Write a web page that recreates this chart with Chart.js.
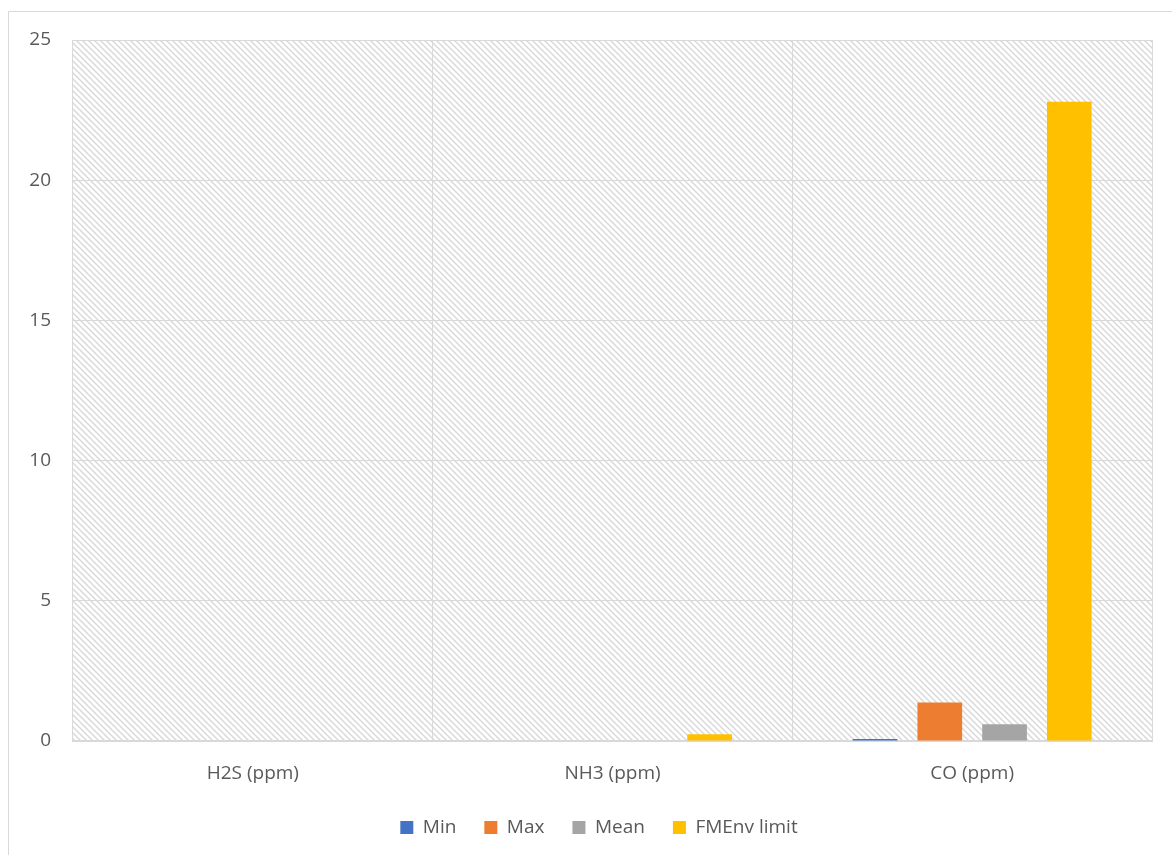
<!DOCTYPE html>
<html>
<head>
<meta charset="utf-8">
<script src="https://cdn.jsdelivr.net/npm/chart.js@4/dist/chart.umd.min.js"></script>
<style>
  html, body { margin: 0; padding: 0; background: #fff; }
  #wrap { width: 1172px; height: 855px; position: relative; }
</style>
</head>
<body>
<div id="wrap"><canvas id="chart" width="1172" height="855"></canvas></div>
<script>
const categories = ['H2S (ppm)', 'NH3 (ppm)', 'CO (ppm)'];
const minValues = [0, 0, 0.07];
const maxValues = [0, 0, 1.37];
const meanValues = [0, 0, 0.6];
const limitValues = [0, 0.24, 22.8];
const yTicks = [0, 5, 10, 15, 20, 25];

const textColor = '#595959';
const gridColor = '#d9d9d9';

// motif hachuré du fond (diagonales)
function makeHatch() {
    const c = document.createElement('canvas');
    c.width = 6; c.height = 6;
    const g = c.getContext('2d');
    g.fillStyle = '#ffffff';
    g.fillRect(0, 0, 6, 6);
    g.strokeStyle = '#d9d9d9';
    g.lineWidth = 1.5;
    g.beginPath();
    g.moveTo(-1, -1); g.lineTo(7, 7);
    g.moveTo(-1, 5); g.lineTo(1, 7);
    g.moveTo(5, -1); g.lineTo(7, 1);
    g.stroke();
    return c;
}

const backgroundPlugin = {
    id: 'hatchBg',
    afterLayout(chart) {
        // légende un peu décalée vers la droite, comme dans l'original
        if (chart.legend) {
            chart.legend.left += 19;
            chart.legend.right += 19;
        }
    },
    beforeDraw(chart) {
        const { ctx, chartArea } = chart;
        ctx.save();
        // cadre extérieur
        ctx.strokeStyle = gridColor;
        ctx.lineWidth = 1;
        ctx.beginPath();
        ctx.moveTo(8.5, 855);
        ctx.lineTo(8.5, 11.5);
        ctx.lineTo(1172, 11.5);
        ctx.stroke();
        ctx.fillStyle = ctx.createPattern(makeHatch(), 'repeat');
        ctx.fillRect(chartArea.left, chartArea.top, chartArea.right - chartArea.left, chartArea.bottom - chartArea.top);
        ctx.restore();
    }
};

const ctx = document.getElementById('chart').getContext('2d');

new Chart(ctx, {
    type: 'bar',
    data: {
        labels: categories,
        datasets: [
            { label: 'Min', data: minValues, backgroundColor: '#4472C4' },
            { label: 'Max', data: maxValues, backgroundColor: '#ED7D31' },
            { label: 'Mean', data: meanValues, backgroundColor: '#A5A5A5' },
            { label: 'FMEnv limit', data: limitValues, backgroundColor: '#FFC000' }
        ]
    },
    options: {
        responsive: false,
        animation: false,
        categoryPercentage: 0.72,
        barPercentage: 0.69,
        layout: {
            padding: { left: 8, right: 20, top: 40, bottom: 8 }
        },
        plugins: {
            legend: {
                position: 'bottom',
                labels: {
                    color: textColor,
                    boxWidth: 13,
                    boxHeight: 13,
                    padding: 28,
                    font: { family: 'Open Sans', size: 19 }
                }
            },
            tooltip: { enabled: false }
        },
        scales: {
            x: {
                grid: { color: gridColor, lineWidth: 1, drawTicks: false },
                border: { color: gridColor, width: 2 },
                ticks: {
                    color: textColor,
                    padding: 21,
                    font: { family: 'Open Sans', size: 19 }
                },
                afterFit(scale) { scale.height = 49; }
            },
            y: {
                min: 0,
                max: 25,
                afterBuildTicks(scale) {
                    scale.ticks = yTicks.map(v => ({ value: v }));
                },
                grid: { color: gridColor, lineWidth: 1, drawTicks: false },
                border: { display: false },
                ticks: {
                    color: textColor,
                    padding: 22,
                    font: { family: 'Open Sans', size: 19 }
                },
                afterFit(scale) { scale.width = 65; }
            }
        }
    },
    plugins: [backgroundPlugin]
});
</script>
</body>
</html>
